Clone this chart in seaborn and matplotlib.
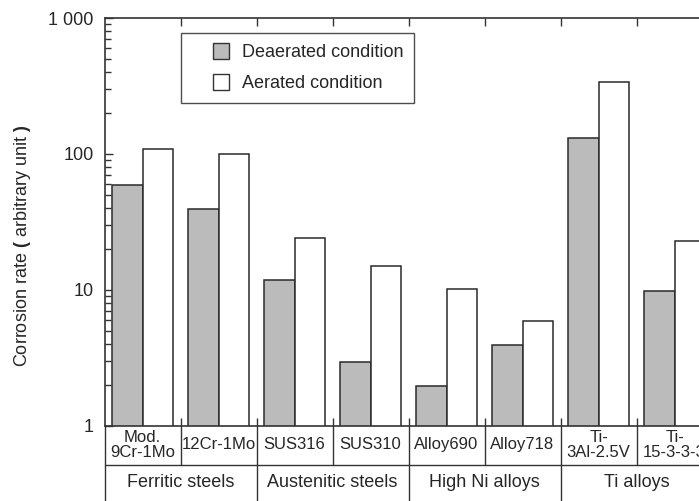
import numpy as np
import pandas as pd
import matplotlib
matplotlib.use("Agg")
from matplotlib import pyplot as plt
from matplotlib.lines import Line2D
from matplotlib.ticker import LogLocator, NullFormatter
import seaborn as sns

# values (log axis)
materials = ["Mod.\n9Cr-1Mo", "12Cr-1Mo", "SUS316", "SUS310",
             "Alloy690", "Alloy718", "Ti-\n3Al-2.5V", "Ti-\n15-3-3-3"]
groups = ["Ferritic steels", "Austenitic steels", "High Ni alloys", "Ti alloys"]
deaerated = [58.7, 39.5, 11.9, 2.96, 1.97, 3.95, 131, 9.8]
aerated = [109, 100, 24.0, 15.0, 10.1, 5.94, 339, 23.0]
conditions = ["Deaerated condition", "Aerated condition"]
colors = ["#bbbbbb", "white"]
ytick_vals = [1, 10, 100, 1000]
ytick_labels = ["1", "10", "100", "1 000"]

sns.set_theme(style="ticks")
plt.rcParams['font.family'] = ['Liberation Sans', 'DejaVu Sans']
plt.rcParams['mathtext.fontset'] = 'custom'
plt.rcParams['mathtext.bf'] = 'Liberation Sans:bold'
plt.rcParams['mathtext.rm'] = 'Liberation Sans'

fig = plt.figure(figsize=(6.99, 5.01), dpi=100)
# axes runs past the right edge, like the cropped original
ax = fig.add_axes([104.5 / 699, 1 - 425.7 / 501, 608 / 699, 407.7 / 501])

df = pd.DataFrame({
    'material': materials * 2,
    'rate': deaerated + aerated,
    'condition': [conditions[0]] * len(materials) + [conditions[1]] * len(materials),
})
sns.barplot(data=df, x='material', y='rate', hue='condition', order=materials,
            hue_order=conditions, palette=colors, edgecolor='#2a2a2a', linewidth=1.1,
            width=0.8, gap=0, errorbar=None, legend=False, ax=ax)

ax.set_yscale('log')
ax.set_ylim(1, 1000)
ax.set_xlim(-0.5, 7.5)
ax.set_yticks(ytick_vals)
ax.set_yticklabels(ytick_labels)
ax.yaxis.set_minor_locator(LogLocator(base=10, subs=np.arange(2, 10)))
ax.yaxis.set_minor_formatter(NullFormatter())
ax.tick_params(axis='y', which='major', direction='in', length=6, width=1, labelsize=13,
               pad=8, color='#333', right=False)
ax.tick_params(axis='y', which='minor', direction='in', length=4, width=1, color='#333', right=False)

# category boundary ticks, top and bottom
ax.set_xticks(np.arange(0.5, 7, 1))
ax.tick_params(axis='x', which='major', direction='in', length=6, width=1, color='#333',
               top=True, bottom=True, labelbottom=False)
ax.set_xlabel('')
ax.set_ylabel(r'Corrosion rate $\mathbf{(}$ arbitrary unit $\mathbf{)}$', fontsize=13)
ax.yaxis.set_label_coords(-0.118, 0.441)

for side in ['left', 'top', 'bottom']:
    ax.spines[side].set_color('#333')
    ax.spines[side].set_linewidth(1.2)
ax.spines['right'].set_visible(False)

# table under the axis
trans = ax.get_xaxis_transform()
row_y = -38.8 / 407.7
bot_y = -0.2
line_kw = dict(transform=trans, clip_on=False, color='#333', lw=1.0)
ax.plot([-0.5, 7.5], [row_y, row_y], **line_kw)
ax.plot([-0.5, -0.5], [0, bot_y], **line_kw)
for b in np.arange(0.5, 7, 1):
    ax.plot([b, b], [0, row_y], **line_kw)
for b in [1.5, 3.5, 5.5]:
    ax.plot([b, b], [row_y, bot_y], **line_kw)

for i, m in enumerate(materials):
    ax.text(i, -0.0473, m, transform=trans, ha='center', va='center',
            fontsize=12, linespacing=0.95)
for k, g in enumerate(groups):
    ax.text(2 * k + 0.5, -0.1405, g, transform=trans, ha='center', va='center', fontsize=13)

# legend
handles = [Line2D([], [], marker='s', ls='none', markersize=12, markerfacecolor=c,
                  markeredgecolor='#333', markeredgewidth=1, label=lab)
           for c, lab in zip(colors, conditions)]
leg = ax.legend(handles=handles, loc='upper left', bbox_to_anchor=(0.126, 0.963),
                borderaxespad=0, frameon=True, fancybox=False, edgecolor='#222',
                fontsize=13, handlelength=3.18, handletextpad=-0.4, borderpad=0.6,
                labelspacing=0.8)
leg.get_frame().set_linewidth(1.0)

fig.savefig('out.png', dpi=100)
